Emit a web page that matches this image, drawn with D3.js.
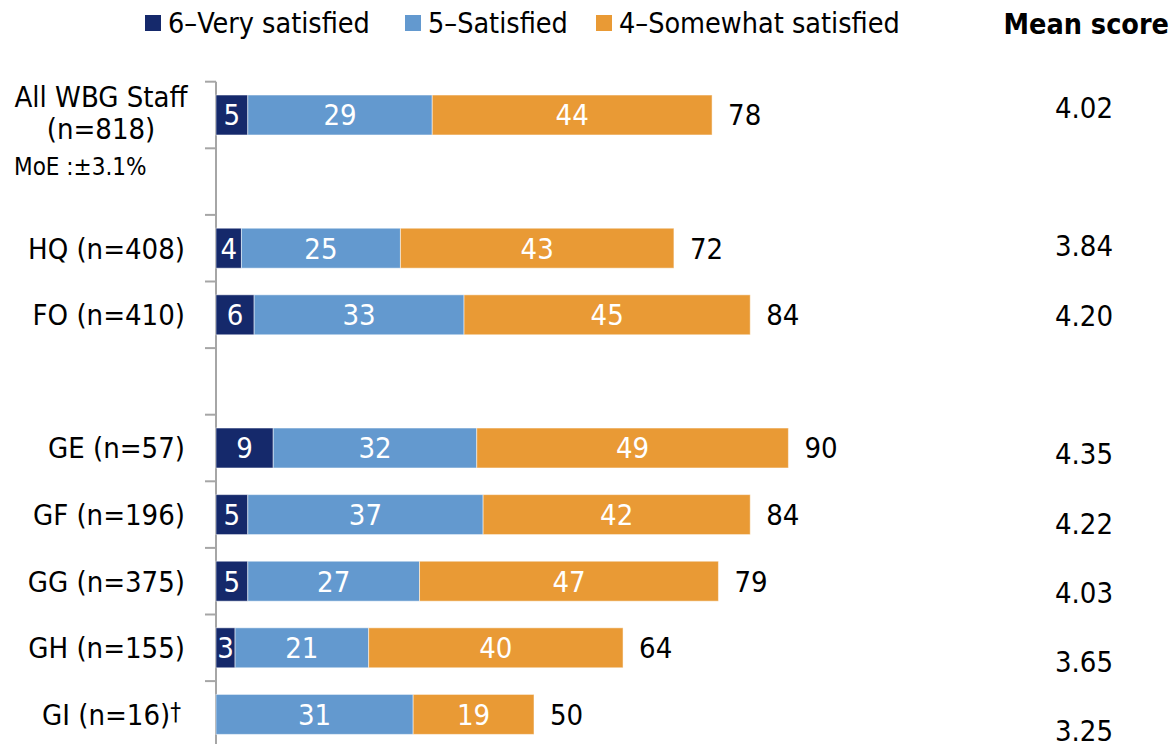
<!DOCTYPE html>
<html>
<head>
<meta charset="utf-8">
<script src="https://cdn.jsdelivr.net/npm/d3@7"></script>
<style>
  body { margin: 0; background: #fff; }
  svg { display: block; font-family: "DejaVu Sans Condensed", "DejaVu Sans", sans-serif; }
</style>
</head>
<body>
<script>
// rows of the chart, blank ones are spacers
const rows = ["all", "gap1", "HQ", "FO", "gap2", "GE", "GF", "GG", "GH", "GI"]
const rowLabels = ["", "", "HQ (n=408)", "FO (n=410)", "", "GE (n=57)", "GF (n=196)", "GG (n=375)", "GH (n=155)", "GI (n=16)"]
const allLabel = ["All WBG Staff", "(n=818)"]
const moeLabel = "MoE :±3.1%"

const verySatisfied = [5, null, 4, 6, null, 9, 5, 5, 3, 0]
const satisfied = [29, null, 25, 33, null, 32, 37, 27, 21, 31]
const somewhatSatisfied = [44, null, 43, 45, null, 49, 42, 47, 40, 19]
const totals = [78, null, 72, 84, null, 90, 84, 79, 64, 50]
const meanScores = ["4.02", null, "3.84", "4.20", null, "4.35", "4.22", "4.03", "3.65", "3.25"]

const seriesNames = ["6–Very satisfied", "5–Satisfied", "4–Somewhat satisfied"]
const colors = ["#15296b", "#6399cf", "#e99a35"]

const width = 1172, height = 744

const svg = d3.select("body").append("svg")
  .attr("width", width)
  .attr("height", height)

// scales
const x = d3.scaleLinear().domain([0, 100]).range([216, 852])
const y = d3.scaleBand().domain(rows).range([81.7, 747.7])
  .paddingInner(0.4).paddingOuter(0.2)
const meanY = d3.scalePoint().domain(rows).range([107.5, 731])

// stacked data
const table = rows.map((r, i) => ({
  row: r,
  s0: verySatisfied[i], s1: satisfied[i], s2: somewhatSatisfied[i]
})).filter(d => d.s1 !== null)
const stack = d3.stack().keys(["s0", "s1", "s2"])(table)

// axis line + ticks
const gAxis = svg.append("g")
gAxis.append("line")
  .attr("x1", x(0)).attr("x2", x(0))
  .attr("y1", y.range()[0]).attr("y2", height)
  .attr("stroke", "#a6a6a6").attr("stroke-width", 2)
gAxis.selectAll(".tick").data(rows).join("line")
  .attr("x1", x(0) - 11).attr("x2", x(0))
  .attr("y1", d => y(d) - y.step() * y.paddingInner() / 2)
  .attr("y2", d => y(d) - y.step() * y.paddingInner() / 2)
  .attr("stroke", "#a6a6a6").attr("stroke-width", 2)

// bars
const layers = svg.selectAll(".layer").data(stack).join("g")
  .attr("fill", (d, i) => colors[i])

layers.selectAll("rect").data(d => d.filter(p => p[1] > p[0])).join("rect")
  .attr("x", d => x(d[0]))
  .attr("width", d => x(d[1]) - x(d[0]))
  .attr("y", d => y(d.data.row))
  .attr("height", y.bandwidth())
  .attr("stroke", "#fff").attr("stroke-opacity", 0.5).attr("stroke-width", 1)

layers.selectAll("text").data(d => d.filter(p => p[1] > p[0])).join("text")
  .attr("x", d => (x(d[0]) + x(d[1])) / 2)
  .attr("y", d => y(d.data.row) + y.bandwidth() / 2)
  .attr("dy", "0.36em")
  .attr("text-anchor", "middle")
  .attr("fill", "#fff")
  .attr("font-size", 29)
  .text(d => d[1] - d[0])

// totals
svg.selectAll(".total").data(table).join("text")
  .attr("x", d => x(d.s0 + d.s1 + d.s2) + 16)
  .attr("y", d => y(d.row) + y.bandwidth() / 2)
  .attr("dy", "0.36em")
  .attr("font-size", 29)
  .text(d => totals[rows.indexOf(d.row)])

// category labels
svg.selectAll(".cat").data(rows.filter((r, i) => rowLabels[i])).join("text")
  .attr("x", 185)
  .attr("y", d => y(d) + y.bandwidth() / 2)
  .attr("dy", "0.36em")
  .attr("text-anchor", "end")
  .attr("font-size", 29)
  .each(function(d) {
    const t = d3.select(this)
    const lab = rowLabels[rows.indexOf(d)]
    t.append("tspan").text(lab)
    if (d === "GI") {
      t.attr("x", 181)
      t.append("tspan").attr("font-size", 24).attr("dy", "-0.2em").text("†")
    }
  })

// All WBG label block
const cAll = y("all") + y.bandwidth() / 2
svg.append("text").attr("x", 101).attr("y", cAll - 8)
  .attr("text-anchor", "middle").attr("font-size", 29).text(allLabel[0])
svg.append("text").attr("x", 101).attr("y", cAll + 24)
  .attr("text-anchor", "middle").attr("font-size", 29).text(allLabel[1])
svg.append("text").attr("x", 14).attr("y", cAll + 60)
  .attr("font-size", 24).text(moeLabel)

// mean scores
svg.append("text").attr("x", 1169).attr("y", 34)
  .attr("text-anchor", "end").attr("font-size", 28.5).attr("font-weight", "bold")
  .text("Mean score")
svg.selectAll(".mean").data(rows.filter((r, i) => meanScores[i])).join("text")
  .attr("x", 1084)
  .attr("y", d => meanY(d))
  .attr("dy", "0.36em")
  .attr("text-anchor", "middle")
  .attr("font-size", 29)
  .text(d => meanScores[rows.indexOf(d)])

// legend
const legendX = [145, 405, 596]
const leg = svg.selectAll(".leg").data(seriesNames).join("g")
  .attr("transform", (d, i) => `translate(${legendX[i]},0)`)
leg.append("rect").attr("x", 0).attr("y", 15).attr("width", 16).attr("height", 16)
  .attr("fill", (d, i) => colors[i])
leg.append("text").attr("x", 23).attr("y", 33).attr("font-size", 28.5).text(d => d)
</script>
</body>
</html>
